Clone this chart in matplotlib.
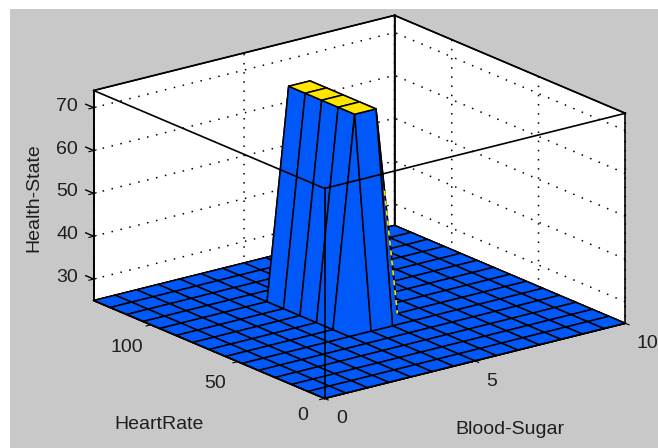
import matplotlib
matplotlib.use('Agg')
import matplotlib.pyplot as plt
from matplotlib.patches import Rectangle
from mpl_toolkits.mplot3d import proj3d
import numpy as np

BLUE = '#0058F8'
YELLOW = '#FFE600'
GRAY = '#C8C8C8'
TEXT = '#1E1E1E'

# values
blood_sugar = [0, 0.71, 1.43, 2.14, 2.86, 3.57, 4.29, 5, 5.71, 6.43, 7.14, 7.86, 8.57, 9.29, 10]
heart_rate = [0, 9.5, 19, 28.5, 38, 47.5, 57, 66.5, 76, 85.5, 95, 104.5, 114, 123.5, 133]
health_state = [
    [25, 25, 25, 25, 25, 25, 25, 25, 25, 25, 25, 25, 25, 25, 25],
    [25, 25, 25, 25, 25, 25, 25, 25, 25, 25, 25, 25, 25, 25, 25],
    [25, 25, 25, 25, 25, 25, 25, 25, 25, 25, 25, 25, 25, 25, 25],
    [25, 25, 25, 25, 25, 25, 25, 25, 25, 25, 25, 25, 25, 25, 25],
    [25, 25, 25, 25, 25, 25, 25, 25, 25, 25, 25, 25, 25, 25, 25],
    [25, 25, 25, 25, 25, 25, 25, 25, 25, 25, 25, 25, 25, 25, 25],
    [25, 25, 25, 25, 25, 25, 74, 74, 25, 25, 25, 25, 25, 25, 25],
    [25, 25, 25, 25, 25, 25, 74, 74, 25, 25, 25, 25, 25, 25, 25],
    [25, 25, 25, 25, 25, 25, 74, 74, 25, 25, 25, 25, 25, 25, 25],
    [25, 25, 25, 25, 25, 25, 74, 74, 25, 25, 25, 25, 25, 25, 25],
    [25, 25, 25, 25, 25, 25, 74, 74, 25, 25, 25, 25, 25, 25, 25],
    [25, 25, 25, 25, 25, 25, 25, 25, 25, 25, 25, 25, 25, 25, 25],
    [25, 25, 25, 25, 25, 25, 25, 25, 25, 25, 25, 25, 25, 25, 25],
    [25, 25, 25, 25, 25, 25, 25, 25, 25, 25, 25, 25, 25, 25, 25],
    [25, 25, 25, 25, 25, 25, 25, 25, 25, 25, 25, 25, 25, 25, 25],
]
x_ticks = [0, 5, 10]
y_ticks = [0, 50, 100]
z_ticks = [30, 40, 50, 60, 70]
x_lim = (0, 10)
y_lim = (0, 133)
z_lim = (25, 74)

plt.rcParams['font.family'] = ['Liberation Sans', 'DejaVu Sans']
plt.rcParams['grid.linestyle'] = (0, (1, 5))
plt.rcParams['grid.color'] = 'black'
plt.rcParams['grid.linewidth'] = 1.1

fig = plt.figure(figsize=(6.58, 4.48), dpi=100, facecolor='white')
fig.patches.append(Rectangle((10 / 658, 0), 648 / 658, 439 / 448, transform=fig.transFigure,
                             facecolor=GRAY, edgecolor='none', zorder=-10))

ax = fig.add_axes([51.4 / 658, -67 / 448, 600 / 658, 600 / 448], projection='3d',
                  proj_type='ortho', facecolor='none')
ax.computed_zorder = False
ax.view_init(elev=19, azim=-127.5)
ax.set_box_aspect((379, 379, 222), zoom=0.939)

# flat colouring, each cell takes the colour of its first corner
n_rows = len(heart_rate)
n_cols = len(blood_sugar)
X = np.array([blood_sugar for _ in range(n_rows)])
Y = np.array([[heart_rate[r]] * n_cols for r in range(n_rows)])
Z = np.array(health_state)
colors = [[YELLOW if health_state[r][c] > 50 else BLUE for c in range(n_cols - 1)]
          for r in range(n_rows - 1)]

ax.plot_surface(X, Y, Z, rstride=1, cstride=1, facecolors=colors, edgecolor='black',
                linewidth=1.1, shade=False, zorder=2)

ax.set_xlim(*x_lim, view_margin=0)
ax.set_ylim(*y_lim, view_margin=0)
ax.set_zlim(*z_lim, view_margin=0)
ax.set_xticks(x_ticks)
ax.set_yticks(y_ticks)
ax.set_zticks(z_ticks)
ax.set_xticklabels([])
ax.set_yticklabels([])
ax.set_zticklabels([])
ax.zaxis.set_ticks_position('upper')

for axis in (ax.xaxis, ax.yaxis, ax.zaxis):
    axis.set_pane_color('white')
    axis.pane.set_edgecolor('black')
    axis.line.set_linewidth(1.2)

# box edges, the front ones go over the surface
x0, x1 = x_lim
y0, y1 = y_lim
z0, z1 = z_lim
front_edges = [
    ([x0, x1], [y0, y0], [z1, z1]),
    ([x0, x0], [y0, y1], [z1, z1]),
    ([x0, x0], [y0, y0], [z0, z1]),
    ([x0, x1], [y0, y0], [z0, z0]),
    ([x0, x0], [y0, y1], [z0, z0]),
    ([x1, x1], [y0, y1], [z1, z1]),
    ([x0, x1], [y1, y1], [z1, z1]),
    ([x1, x1], [y0, y0], [z0, z1]),
    ([x0, x0], [y1, y1], [z0, z1]),
]
for xs, ys, zs in front_edges:
    ax.plot(xs, ys, zs, color='black', linewidth=1.2, zorder=5)
ax.plot([x1, x1], [y1, y1], [z0, z1], color='black', linewidth=1.2, zorder=1)

# back face of the ridge shows through as yellow dashes along its right edge
ridge_x = [blood_sugar[7] + 0.4 * (blood_sugar[8] - blood_sugar[7]), blood_sugar[8]]
ridge_z = [Z[6][7] + 0.4 * (Z[6][8] - Z[6][7]), Z[6][8]]
ax.plot(ridge_x, [heart_rate[6]] * 2, ridge_z, color=YELLOW, linewidth=1.2,
        linestyle=(0, (3, 3)), zorder=4)

# short z ticks sticking out of the left edge
for z in z_ticks:
    ax.plot([x0, x0], [y1, y1 + 4.6], [z, z], color='black', linewidth=1.0, zorder=5)


def tick_label(x, y, z, text, dx, dy, ha='center'):
    # label placed at a pixel offset from the projected tick position
    px, py, _ = proj3d.proj_transform(x, y, z, ax.get_proj())
    ax.annotate(text, (float(px), float(py)), xycoords='data', xytext=(dx, dy),
                textcoords='offset pixels', ha=ha, va='center', fontsize=14, color=TEXT,
                annotation_clip=False)


for v in x_ticks:
    tick_label(v, y0, z0, str(v), 11.5, -20.5, ha='left')
for v, dx, dy in zip(y_ticks, [-22, -23, -24], [-17, -22, -23]):
    tick_label(x0, v, z0, str(v), dx, dy)
for v in z_ticks:
    tick_label(x0, y1, v, str(v), -26.5, 1.5)

fig.text(159 / 658, 1 - 424 / 448, 'HeartRate', fontsize=14, color=TEXT, ha='center', va='center')
fig.text(510 / 658, 1 - 429 / 448, 'Blood-Sugar', fontsize=14, color=TEXT, ha='center', va='center')
fig.text(33.5 / 658, 1 - 198 / 448, 'Health-State', fontsize=14, color=TEXT, ha='center', va='center',
         rotation=90)

fig.savefig('out.png', dpi=100)
